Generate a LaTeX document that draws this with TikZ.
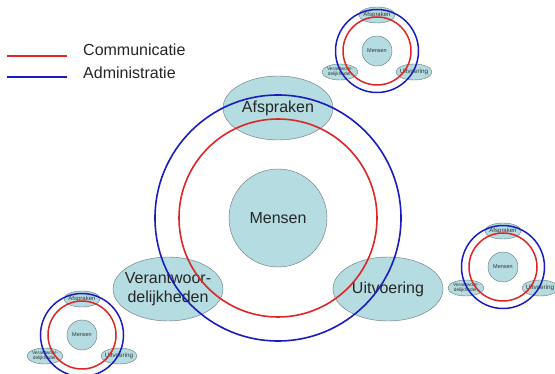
\documentclass[tikz,border=0pt]{standalone}
\usepackage{fontspec}
\setmainfont{Liberation Sans}
\usetikzlibrary{shapes,positioning}
\definecolor{partfill}{RGB}{180,220,225}
\definecolor{partline}{RGB}{105,115,118}
\definecolor{commred}{RGB}{222,38,38}
\definecolor{adminblue}{RGB}{28,28,190}
\tikzset{
  hub/.style={circle,draw=partline,fill=partfill,minimum size=98pt,inner sep=0pt,
    text=black!85,font=\fontsize{16}{19}\selectfont},
  part/.style={ellipse,draw=partline,fill=partfill,minimum width=110pt,minimum height=64pt,inner sep=0pt},
  parttext/.style={align=center,inner sep=0pt,text=black!85,font=\fontsize{16}{19}\selectfont},
  smallhub/.style={circle,draw=partline,fill=partfill,minimum size=30pt,inner sep=0pt,
    text=black!80,font=\fontsize{5.5}{6}\selectfont},
  smallpart/.style={ellipse,draw=partline,fill=partfill,minimum width=36pt,minimum height=16pt,inner sep=0pt},
  smalltext/.style={align=center,inner sep=0pt,text=black!80},
  commring/.style={draw=commred,line width=1.6pt},
  adminring/.style={draw=adminblue,line width=1.6pt},
  legendtext/.style={anchor=west,inner sep=0pt,text=black!85,font=\fontsize{16}{19}\selectfont}
}
\begin{document}
\begin{tikzpicture}[x=1pt,y=-1pt]
\path[use as bounding box,fill=white] (0,0) rectangle (555,374);

% legend
\coordinate (c1) at (7,56);
\coordinate (c2) at (67,56);
\coordinate (a1) at (7,77);
\coordinate (a2) at (67,77);
\draw[commring,line width=1.3pt] (c1) -- (c2);
\draw[adminring,line width=1.3pt] (a1) -- (a2);
\node[legendtext] (comm) at (83,50) {Communicatie};
\node[legendtext] (admin) at (83,73) {Administratie};

% main diagram
\node[hub] (mensen) at (278,218) {Mensen};
\node[part,label={[parttext]center:Afspraken}] (afspraken) at (278,108) {};
\node[part,label={[parttext]center:{Verantwoor-\\delijkheden}}] (verantw) at (168,289) {};
\node[part,label={[parttext]center:Uitvoering}] (uitvoering) at (388,289) {};
\draw[commring] (mensen) circle[radius=99pt];
\draw[adminring] (mensen) circle[radius=123pt];

% small copies
\foreach \n/\px/\py in {tr/377/51,br/503/267,bl/82/335}{
  \begin{scope}[shift={(\px,\py)}]
    \node[smallhub] (\n-mensen) at (0,0) {Mensen};
    \node[smallpart,label={[smalltext,font=\fontsize{6}{6}\selectfont]center:Afspraken}] (\n-afspraken) at (0,-36) {};
    \node[smallpart,label={[smalltext,font=\fontsize{4.8}{5.2}\selectfont]center:{Verantwoor-\\delijkheden}}] (\n-verantw) at (-37,21) {};
    \node[smallpart,label={[smalltext,font=\fontsize{6.3}{7}\selectfont]center:Uitvoering}] (\n-uitvoering) at (37,21) {};
    \draw[commring,line width=1.5pt] (\n-mensen) circle[radius=34pt];
    \draw[adminring,line width=1.5pt] (\n-mensen) circle[radius=41.5pt];
  \end{scope}
}
\end{tikzpicture}
\end{document}
